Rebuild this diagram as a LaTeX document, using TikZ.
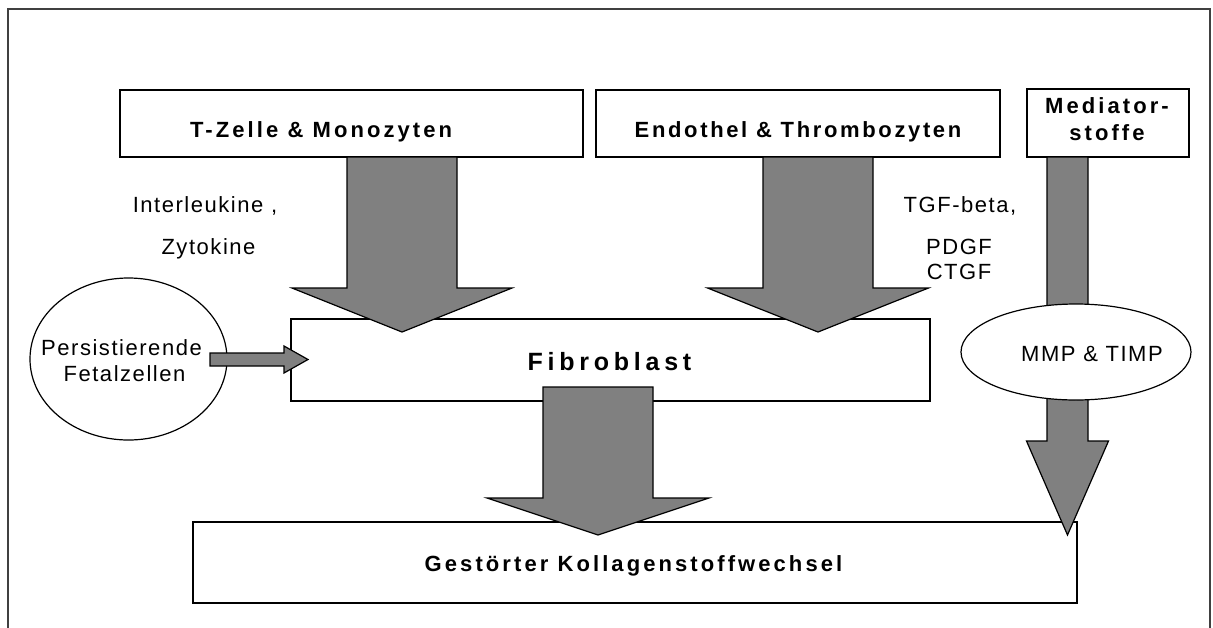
\documentclass[tikz,border=0pt]{standalone}
\usepackage{fontspec}
\setmainfont{Liberation Sans}
\newfontfamily\rlab[LetterSpace=7]{Liberation Sans}
\newfontfamily\blab[LetterSpace=14]{Liberation Sans}
\newfontfamily\elab[LetterSpace=12]{Liberation Sans}
\newfontfamily\flab[LetterSpace=19]{Liberation Sans}
\usetikzlibrary{shapes.geometric}
\definecolor{arrowgray}{HTML}{808080}
\definecolor{framegray}{HTML}{404040}
\tikzset{
  pics/downarrow/.style n args={4}{code={
    \draw[blockarrow] (-#1,0) -- (#1,0) -- (#1,#3) -- (#2,#3) -- (0,#4) -- (-#2,#3) -- (-#1,#3) -- cycle;}},
}
\begin{document}
\begin{tikzpicture}[x=1pt,y=-1pt,
  box/.style={draw,line width=1.6pt,fill=white,rectangle,inner sep=0},
  oval/.style={draw,line width=1.2pt,fill=white,ellipse,inner sep=0},
  blockarrow/.style={draw,line width=1.2pt,fill=arrowgray,line join=miter},
  rtxt/.style={font=\rlab\fontsize{22}{26}\selectfont,anchor=base,inner sep=0},
  btxt/.style={font=\blab\bfseries\fontsize{22}{26}\selectfont,anchor=base,inner sep=0},
]
\useasboundingbox (0,0) rectangle (1213,627);
\clip (0,0) rectangle (1213,627);
\fill[white] (0,0) rectangle (1213,627);
\draw[framegray,line width=2.5pt] (8,9) rectangle (1210,660);

% boxes and ovals
\node[oval,minimum width=197,minimum height=162] (pers) at (128.5,359) {};
\node[box,minimum width=639,minimum height=82] (fib) at (610.5,360) {};
\node[box,minimum width=884,minimum height=81] (gest) at (635,562.5) {};
\node[box,minimum width=463,minimum height=67] (tz) at (351.5,123.5) {};
\node[box,minimum width=404,minimum height=67] (en) at (798,123.5) {};
\node[box,minimum width=162,minimum height=68] (med) at (1108,123) {};

% block arrows
\pic at (402,157) {downarrow={55}{110}{131}{175}};
\pic at (818,157) {downarrow={55}{110.5}{131}{175}};
\pic at (598,387) {downarrow={55}{111}{111}{148}};
\pic at (1067.5,157) {downarrow={20.5}{41}{284}{378}};
\node[oval,minimum width=230,minimum height=96] (mmp) at (1076,352) {};
\draw[blockarrow] (210,353) -- (284,353) -- (284,346) -- (308,359.5) -- (284,373) -- (284,366) -- (210,366) -- cycle;

% texts
\node[btxt,anchor=base west] (tzt) at (190,137) {T-Zelle \& Monozyten};
\node[btxt,font=\elab\bfseries\fontsize{22}{26}\selectfont] (ent) at (798,137) {Endothel \& Thrombozyten};
\node[btxt] (medt1) at (1107,113) {Mediator-};
\node[btxt] (medt2) at (1107,140) {stoffe};
\node[font=\flab\bfseries\fontsize{25}{30}\selectfont,anchor=base,inner sep=0] (fibt) at (609.5,370) {Fibroblast};
\node[btxt] (gestt) at (633.5,571.7) {Gestörter Kollagenstoffwechsel};
\node[rtxt] (il) at (205,212.7) {Interleukine ,};
\node[rtxt] (zy) at (208.5,254) {Zytokine};
\node[rtxt] (tgf) at (960,212.7) {TGF-beta,};
\node[rtxt] (pdgf) at (959,254) {PDGF};
\node[rtxt] (ctgf) at (959,279) {CTGF};
\node[rtxt] (perst1) at (121.5,355) {Persistierende};
\node[rtxt] (perst2) at (124.5,381) {Fetalzellen};
\node[rtxt] (mmpt) at (1092,361) {MMP \& TIMP};
\end{tikzpicture}
\end{document}
